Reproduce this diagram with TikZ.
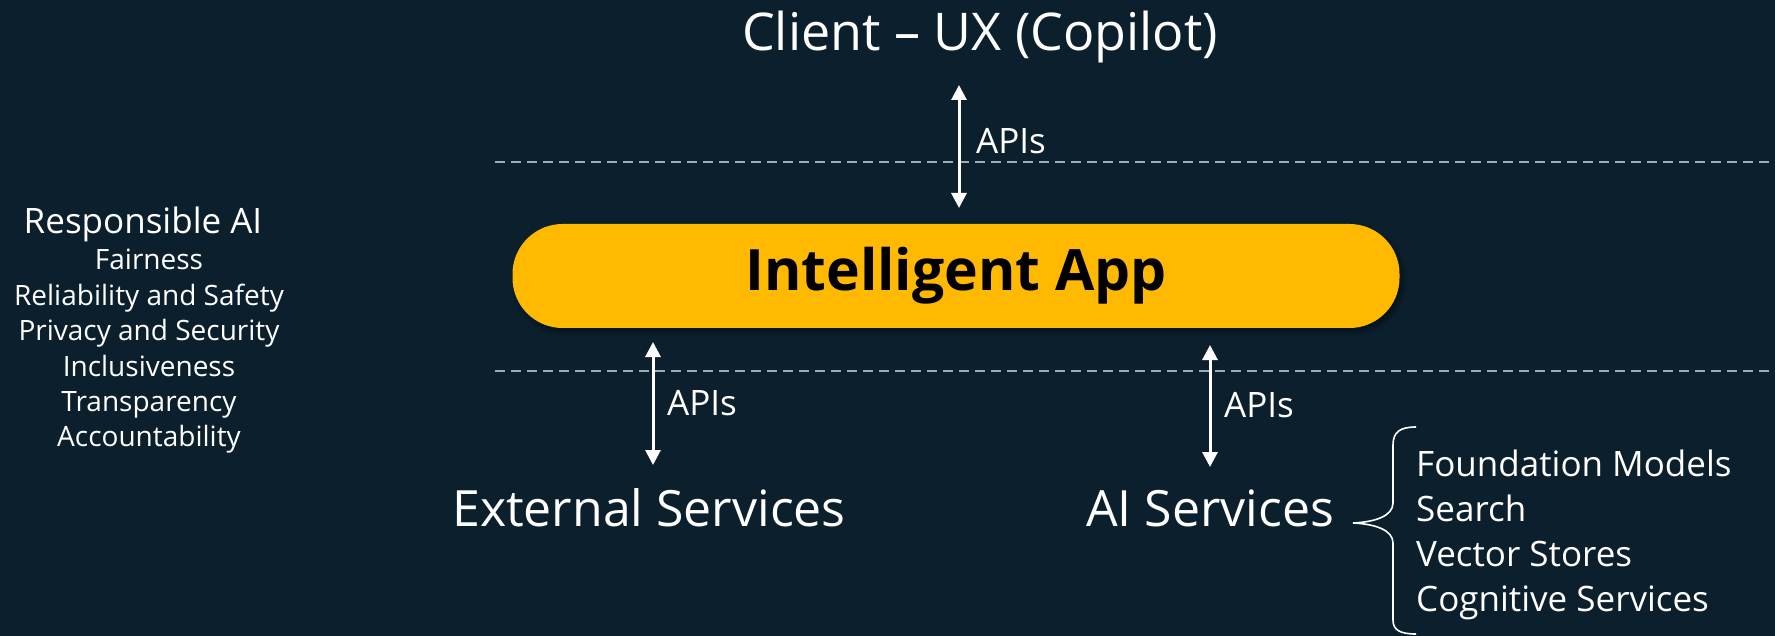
\documentclass[tikz,border=0pt]{standalone}
\usepackage{fontspec}
\setmainfont{Open Sans}
\usetikzlibrary{arrows.meta,shadows.blur}
\definecolor{bg}{HTML}{0B1F2D}
\definecolor{appfill}{HTML}{FFB900}
\definecolor{sep}{HTML}{A3AAB1}
\tikzset{
  txt/.style={text=white, inner sep=0pt},
  api/.style={draw=white, line width=3pt, {Triangle[length=15pt,width=15pt]}-{Triangle[length=15pt,width=15pt]}},
  sepline/.style={draw=sep, line width=2pt, dash pattern=on 10pt off 6pt},
  apilabel/.style={txt, anchor=west, font=\fontsize{35}{40}\selectfont},
  svc/.style={txt, font=\fontsize{50}{58}\selectfont},
  raiitem/.style={txt, anchor=base, font=\fontsize{28}{32}\selectfont},
}
\begin{document}
\begin{tikzpicture}[x=1pt,y=-1pt]
  \fill[bg] (0,0) rectangle (1775,636);
  \useasboundingbox (0,0) rectangle (1775,636);

  % layer separators
  \draw[sepline] (495,162) -- (1775,162);
  \draw[sepline] (495,371) -- (1775,371);

  % top layer
  \node[txt, font=\fontsize{52}{60}\selectfont] (client) at (980,37) {Client – UX (Copilot)};

  % the app itself
  \node[fill=appfill, minimum width=887pt, minimum height=104pt, rounded corners=50pt,
        blur shadow={shadow xshift=3pt, shadow yshift=-4pt, shadow blur radius=5pt, shadow opacity=45},
        font=\fontsize{57}{64}\selectfont\bfseries, text=black] (app) at (956,276) {Intelligent App};

  % services
  \node[svc] (ext) at (649,508) {External Services};
  \node[svc] (ai) at (1210,508) {AI Services};

  % API connectors
  \coordinate (c1) at (959,85);
  \coordinate (c2) at (959,208);
  \coordinate (e1) at (653,342);
  \coordinate (e2) at (653,465);
  \coordinate (a1) at (1210,345);
  \coordinate (a2) at (1210,467);
  \draw[api] (c1) -- (c2);
  \draw[api] (e1) -- (e2);
  \draw[api] (a1) -- (a2);
  \node[apilabel] (l1) at (976,141) {APIs};
  \node[apilabel] (l2) at (667,403) {APIs};
  \node[apilabel] (l3) at (1224,405) {APIs};

  % brace and AI service list
  \coordinate (btip) at (1353,523);
  \draw[white, line width=1.6pt]
    (1416,427) .. controls (1400,427) and (1393,432) .. (1393,445)
    -- (1393,503) .. controls (1393,516) and (1375,522) .. (btip)
    .. controls (1375,524) and (1393,530) .. (1393,543)
    -- (1393,620) .. controls (1393,630) and (1400,634) .. (1416,634);
  \node[txt, anchor=west, align=left, font=\fontsize{35}{45}\selectfont] (list) at (1416,535)
    {Foundation Models\\Search\\Vector Stores\\Cognitive Services};

  % responsible AI principles
  \node[txt, anchor=base, font=\fontsize{35}{40}\selectfont] (rai) at (143,234) {Responsible AI};
  \node[raiitem] (r1) at (149,270) {Fairness};
  \node[raiitem] (r2) at (149,306) {Reliability and Safety};
  \node[raiitem] (r3) at (149,341) {Privacy and Security};
  \node[raiitem] (r4) at (149,376) {Inclusiveness};
  \node[raiitem] (r5) at (149,411) {Transparency};
  \node[raiitem] (r6) at (149,446) {Accountability};
\end{tikzpicture}
\end{document}
